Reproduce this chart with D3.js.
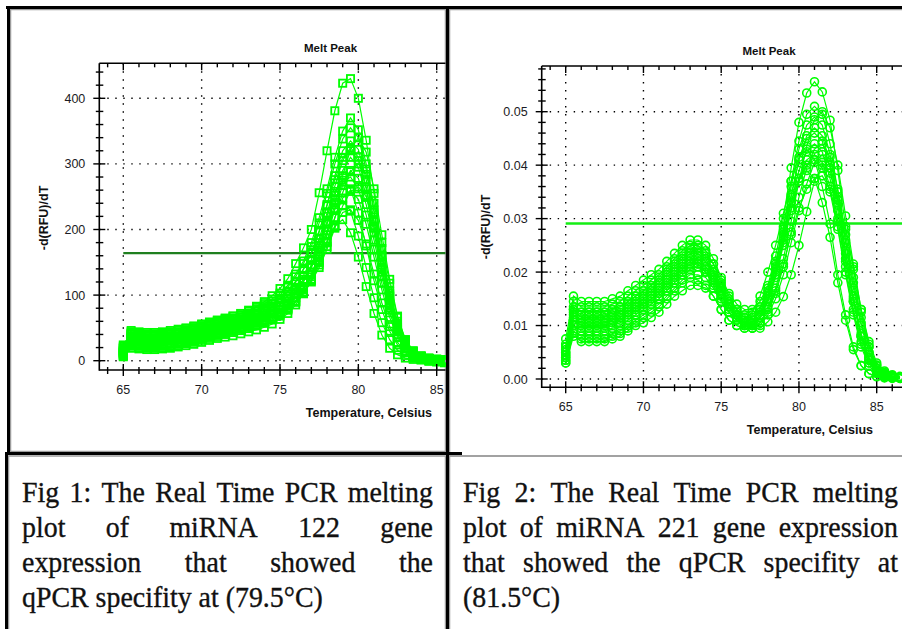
<!DOCTYPE html>
<html>
<head>
<meta charset="utf-8">
<script src="https://cdn.jsdelivr.net/npm/d3@7"></script>
<style>
  body { margin: 0; background: #fff; }
  svg { display: block; }
</style>
</head>
<body>
<svg id="fig" width="902" height="629"></svg>
<script>
// ---- data: Fig 1, miRNA 122 melt curves, -d(RFU)/dT ----
var temps122 = [65, 65.5, 66, 66.5, 67, 67.5, 68, 68.5, 69, 69.5, 70, 70.5, 71, 71.5, 72, 72.5, 73, 73.5, 74, 74.5,
  75, 75.5, 76, 76.5, 77, 77.5, 78, 78.5, 79, 79.5, 80, 80.5, 81, 81.5, 82, 82.5, 83, 83.5, 84, 84.5, 85, 85.5];
var curves122 = [
  [22,44,42,41,41,42,44,46,49,52,55,58,61,64,68,72,77,83,90,99,110,125,148,172,200,256,320,381,423,430,400,336,255,171,103,52,24,12,6,3,2,1],
  [20,46,44,43,43,44,46,48,50,53,56,59,62,65,68,72,76,81,87,94,103,115,132,152,180,218,262,310,350,370,352,300,230,160,100,56,28,14,7,4,2,1],
  [24,42,40,39,39,40,42,44,47,50,53,56,59,62,65,69,73,78,84,91,100,112,128,148,174,210,255,300,338,355,340,292,226,158,98,54,27,13,7,3,2,1],
  [18,38,36,35,35,36,38,40,43,46,49,52,55,58,61,64,68,72,77,83,90,99,110,124,142,166,198,238,282,322,340,318,262,192,124,68,32,15,7,4,2,1],
  [16,36,34,33,33,34,36,38,41,44,47,50,53,56,59,62,66,70,75,81,88,98,112,130,154,186,225,266,305,325,310,265,205,142,88,48,24,12,6,3,2,1],
  [14,34,32,31,31,32,34,36,38,41,44,47,50,53,56,59,63,67,72,78,85,94,107,124,146,176,212,252,290,310,295,252,195,135,84,46,23,11,6,3,2,1],
  [12,32,30,29,29,30,32,34,36,38,41,44,47,50,53,56,59,63,67,72,78,86,96,110,128,152,182,218,256,288,300,284,240,180,118,66,32,15,7,3,2,1],
  [13,30,28,27,27,28,30,32,34,37,40,43,46,49,52,55,58,62,66,71,77,85,96,111,131,158,192,230,268,290,278,238,184,128,80,44,22,11,5,3,1,1],
  [10,28,26,25,25,26,27,29,31,34,37,40,43,46,49,52,56,60,65,71,78,88,102,120,146,180,220,258,275,262,225,175,122,78,45,24,12,6,3,2,1,0],
  [9,26,24,23,23,24,25,27,29,32,35,38,41,44,47,50,53,57,61,66,72,80,91,105,124,150,182,218,248,260,246,208,158,108,66,36,18,9,4,1,-1,-2],
  [8,22,20,19,19,20,21,23,26,28,31,34,37,40,43,46,49,53,57,62,68,77,90,108,132,162,198,232,245,228,190,142,96,58,32,16,8,4,2,1,-1,-3],
  [6,19,18,17,17,18,19,21,23,25,28,31,34,36,38,41,44,47,51,56,63,72,85,102,124,150,180,206,215,195,158,113,72,39,19,9,4,2,1,-1,-2,-3],
  [15,40,38,37,37,38,40,42,45,48,51,54,57,60,63,66,70,75,80,86,94,105,120,139,163,196,238,282,320,335,322,276,214,150,93,51,25,12,6,3,1,0],
  [7,24,22,21,21,22,23,25,27,30,33,36,39,42,45,48,51,55,59,64,70,78,89,103,122,146,174,204,226,230,214,178,132,88,52,28,14,7,3,1,0,-1],
  [19,41,39,38,38,39,41,43,46,49,52,55,58,61,64,67,71,76,81,87,95,106,121,140,165,198,236,276,310,320,305,262,202,140,86,47,23,11,5,2,0,-1],
  [11,27,25,24,24,25,26,28,30,33,36,39,42,45,48,51,54,58,62,67,73,80,90,103,120,142,170,202,236,258,265,250,212,160,106,60,30,14,6,2,0,-2],
  [12,32,29,28,28,29,31,33,35,38,41,44,47,50,53,56,60,64,69,75,82,91,104,121,143,172,208,245,272,280,262,222,170,118,73,40,20,9,4,1,-1,-2]
];
var threshold122 = 164;
var yTicks122 = [0, 100, 200, 300, 400];

// ---- data: Fig 2, miRNA 221 melt curves, -d(RFU)/dT in units of 0.001 ----
var temps221 = [65, 65.5, 66, 66.5, 67, 67.5, 68, 68.5, 69, 69.5, 70, 70.5, 71, 71.5, 72, 72.5, 73, 73.5, 74, 74.5,
  75, 75.5, 76, 76.5, 77, 77.5, 78, 78.5, 79, 79.5, 80, 80.5, 81, 81.5, 82, 82.5, 83, 83.5, 84, 84.5, 85, 85.5, 86, 86.5];
var curves221 = [
  [7.5,15.5,14.5,14.5,14.5,14.5,15,15.5,16.5,17.5,18.5,19.5,20.5,22,23.5,25,26,26,25,22.5,19,16,14,13,13,14.5,17.5,23,30,39.5,48,53.5,55.6,53.7,48.4,39,28.5,20.5,12.5,6,2,1,0.5,0.3],
  [6.5,14.5,13.5,13.5,13.5,13.5,14,14.5,15.5,16.5,17.5,18.5,19.5,21,22.5,24,25,25,24,21.5,18,15,13,12,12,13.5,16.5,21.5,28.5,37,44.5,49.5,51,49.5,44,35,25.5,17,10,5,2,1,0.5,0.3],
  [6,13.5,12.5,12.5,12.5,12.5,13,13.5,14.5,15.5,16.5,17.5,18.5,20,21.5,23,24,24.5,23.5,21.5,18.5,15.5,13,11.5,11,11.5,13.5,17,22.5,29.5,37,43.5,48.5,50,47,40,30.5,21.5,13,7,3,1.5,0.8,0.5],
  [5.5,13,12,12,12,12,12.5,13,14,15,16,17,18,19.5,21,22.5,23.5,23.5,22.5,20,17,14,12,11,11,12.5,15.5,20.5,27,34.5,41,45,46,44.5,39.5,31.5,22.5,14.5,8,4,1.5,0.8,0.4,0.2],
  [5,12,11,11,11,11,11.5,12,13,14,15,16,17,18.5,20,21.5,22.5,22.5,22,20,17,14,12,10.5,10,10.5,12.5,16,21,27.5,34,39.5,43,44,41.5,35.5,27,19,11.5,6,2.5,1.2,0.6,0.3],
  [4.5,11.5,10.5,10.5,10.5,10.5,11,11.5,12.5,13.5,14.5,15.5,16.5,18,19.5,21,22,21.5,20,17.5,14.5,12.5,11,11,12.5,15.5,20,25,31,37,41.5,43,41,36,29,19.5,12,6,2.5,1,0.5,0.3,0.2,0.1],
  [4,11,10,10,10,10,10.5,11,12,13,14,15,16,17.5,19,20.5,21.5,21.5,20.5,18.5,15.5,13,11.5,10.5,10.5,12,15,19.5,25.5,32,37.5,41,42,40.5,36,28.5,20,12.5,6.5,3,1.2,0.6,0.3,0.2],
  [3.5,10,9,9,9,9,9.5,10,11,12,13,14,15,16.5,18,19.5,20.5,21,20.5,19,16.5,14,12,10.5,9.5,9.5,10.7,12.5,15.4,19.5,25,31.3,37,40,38.5,33.5,28,21,13,6.5,2.6,1.2,0.6,0.3],
  [3.5,9,8,8,8,8,8.5,9,10,11,12,13,14,15.5,17,18.5,19.5,19.5,19,17,14.5,12.5,11,10,10,11.5,14.5,19,25,31.5,37,40,41,39.5,35,28,19.5,12,6,2.5,1,0.5,0.3,0.2],
  [3,8.5,7,7,7,7,7.5,8,9,10,10.5,11.5,12.5,14,15.5,16.5,17.5,17.5,17,15.5,13,11,10,9.5,9.5,10.5,13,16.5,21.5,27,32,35.5,37.5,38,35.5,29.5,22,14.5,8,3.5,1.5,0.7,0.3,0.2],
  [6,13,12.5,12.5,12.5,12.5,13,13.5,14.5,15.5,16.5,17.5,19,20.5,22,23.5,24.5,24,23,20.5,17.5,14.5,12.5,11.5,11.5,13,16,21,28,36,43,47.5,49,47.5,42,33.5,24,15.5,8.5,4,1.5,0.8,0.4,0.2],
  [4,10,9.5,9.5,9.5,9.5,10,10.5,11.5,12.5,13.5,14.5,15.5,17,18.5,20,21,21,20,18,15,12.5,11,10,10,11.5,14.5,19.5,26,33,39,42.5,44,42.5,37.5,30,21,13,7,3,1.2,0.6,0.3,0.2],
  [5,12.5,11.5,11.5,11.5,11.5,12,12.5,13.5,14.5,15.5,16.5,17.5,19,20.5,22,23,23,22,19.5,16.5,13.5,11.5,10.5,10.5,12,15,20,26.5,34,41,45.5,47,45.5,40.5,32.5,23.5,15,8,3.5,1.3,0.6,0.3,0.2],
  [4.5,11,10.5,10.5,10.5,10.5,11,11.5,12.5,13.5,14,15,16,17.5,19,20.5,21.5,22,21,19,16,13.5,11.5,10,9.5,10,12,15,19.5,25.5,31.5,36.5,40.5,42,40,34,26,18,10.5,5,2,1,0.5,0.3],
  [3,8,7.5,7.5,7.5,7.5,8,8.5,9.5,10.5,11.5,12.5,13.5,15,16.5,18,19,18.5,17.5,15.5,13,11,10,9.5,10.5,13,17,22,27.5,33,37.5,39,37.5,33,26.5,18,11,5.5,2.5,1,0.4,0.2,0.1,0.1]
];
var threshold221 = 0.0291;
var yTicks221 = [0, 0.01, 0.02, 0.03, 0.04, 0.05];

var xTicks = [65, 70, 75, 80, 85];

var caption122 = ["Fig 1: The Real Time PCR melting", "plot of miRNA 122 gene",
  "expression that showed the", "qPCR specifity at (79.5°C)"];
var caption221 = ["Fig 2: The Real Time PCR melting", "plot of miRNA 221 gene expression",
  "that showed the qPCR specifity at", "(81.5°C)"];

var svg = d3.select("#fig");
var green = "#00ff00";

// table borders
var frame = svg.append("g");
[[10.5, 9.5, 445.5, 451.5], [449.5, 9.5, 912, 456], [8.5, 456, 445.5, 640], [449.5, 456, 912, 640]].forEach(function(r) {
  frame.append("rect").attr("x", r[0]).attr("y", r[1]).attr("width", r[2] - r[0]).attr("height", r[3] - r[1])
    .attr("fill", "none").attr("stroke", "#9c9c9c").attr("stroke-width", 1.5);
});
[[6, 7.5, 902, 7.5], [8.5, 6, 8.5, 455], [6.5, 452, 6.5, 629], [447.5, 6, 447.5, 629], [5, 453.5, 462, 453.5]].forEach(function(l) {
  frame.append("line").attr("x1", l[0]).attr("y1", l[1]).attr("x2", l[2]).attr("y2", l[3])
    .attr("stroke", "#000").attr("stroke-width", 3);
});

function drawChart(o) {
  var x = d3.scaleLinear().domain([65, 85]).range([o.x65, o.x85]);
  var y = d3.scaleLinear().domain([0, o.yRef]).range([o.y0, o.yRefPx]);
  var g = svg.append("g");

  svg.append("clipPath").attr("id", o.id + "-clip").append("rect")
    .attr("x", o.left).attr("y", o.top).attr("width", o.right - o.left).attr("height", o.bottom - o.top);

  // dotted grid
  var grid = g.append("g").attr("stroke", "#000").attr("stroke-width", 1.4).attr("stroke-dasharray", "1.4,6.6");
  grid.selectAll(".gy").data(o.yTicks).join("line").attr("class", "gy")
    .attr("x1", o.left).attr("x2", o.right).attr("y1", y).attr("y2", y);
  grid.selectAll(".gx").data(xTicks).join("line").attr("class", "gx")
    .attr("x1", x).attr("x2", x).attr("y1", o.top).attr("y2", o.bottom);

  var plot = g.append("g").attr("clip-path", "url(#" + o.id + "-clip)");

  // threshold line
  plot.append("line").attr("x1", x(65)).attr("x2", o.right + 20)
    .attr("y1", y(o.threshold)).attr("y2", y(o.threshold))
    .attr("stroke", o.thColor).attr("stroke-width", o.thWidth);

  var line = d3.line().x(function(d) { return x(d.t); }).y(function(d) { return y(d.v); });
  o.curves.forEach(function(c) {
    var pts = o.temps.map(function(t, i) { return { t: t, v: c[i] / o.unit }; });
    var cg = plot.append("g").attr("stroke", green).attr("fill", "none");
    cg.append("path").attr("d", line(pts)).attr("stroke-width", 1.2);
    if (o.marker === "square") {
      cg.selectAll("rect").data(pts).join("rect")
        .attr("x", function(d) { return x(d.t) - 3.6; }).attr("y", function(d) { return y(d.v) - 3.6; })
        .attr("width", 7.2).attr("height", 7.2).attr("stroke-width", 1.8);
    } else {
      cg.selectAll("circle").data(pts).join("circle")
        .attr("cx", function(d) { return x(d.t); }).attr("cy", function(d) { return y(d.v); })
        .attr("r", 4).attr("stroke-width", 1.6);
    }
  });

  // frame lines
  var ax = g.append("g").attr("stroke", "#000").attr("stroke-width", 1.6);
  ax.append("line").attr("x1", o.left).attr("x2", o.left).attr("y1", o.top).attr("y2", o.bottom + 0.8);
  ax.append("line").attr("x1", o.left).attr("x2", o.right).attr("y1", o.bottom).attr("y2", o.bottom);
  ax.append("line").attr("x1", o.left).attr("x2", o.right).attr("y1", o.top).attr("y2", o.top);

  var xMinor = d3.range(64, 88).filter(function(v) { return v % 5 !== 0 && x(v) < o.right; });
  var yMinor = d3.range(0, 40).map(function(i) { return i * o.yMinorStep; })
    .filter(function(v, i) { return i % 5 !== 0 && y(v) > o.top; });

  var tk = g.append("g").attr("stroke", "#000").attr("stroke-width", 1.4);
  tk.selectAll(".ym").data(o.yTicks).join("line").attr("class", "ym")
    .attr("x1", o.left - 6).attr("x2", o.left + 6).attr("y1", y).attr("y2", y);
  tk.selectAll(".yn").data(yMinor).join("line").attr("class", "yn")
    .attr("x1", o.left - 3.5).attr("x2", o.left + 4).attr("y1", y).attr("y2", y);
  tk.selectAll(".xm").data(xTicks).join("line").attr("class", "xm")
    .attr("x1", x).attr("x2", x).attr("y1", o.bottom - 6).attr("y2", o.bottom + 6);
  tk.selectAll(".xn").data(xMinor).join("line").attr("class", "xn")
    .attr("x1", x).attr("x2", x).attr("y1", o.bottom - 3).attr("y2", o.bottom + 4);
  tk.selectAll(".tm").data(xTicks).join("line").attr("class", "tm")
    .attr("x1", x).attr("x2", x).attr("y1", o.top).attr("y2", o.top + 7);
  tk.selectAll(".tn").data(xMinor).join("line").attr("class", "tn")
    .attr("x1", x).attr("x2", x).attr("y1", o.top).attr("y2", o.top + 4);

  // tick labels
  var lab = g.append("g").attr("font-family", "'Liberation Sans', Arial, sans-serif").attr("font-size", 12.5).attr("fill", "#1b1b24");
  lab.selectAll(".yl").data(o.yTicks).join("text").attr("class", "yl")
    .attr("x", o.left - 14).attr("y", y).attr("dy", "0.36em").attr("text-anchor", "end")
    .text(o.fmt);
  lab.selectAll(".xl").data(xTicks).join("text").attr("class", "xl")
    .attr("x", x).attr("y", o.bottom + 24).attr("text-anchor", "middle")
    .text(function(d) { return d; });

  var bold = g.append("g").attr("font-family", "'Liberation Sans', Arial, sans-serif").attr("font-weight", "bold").attr("fill", "#111");
  bold.append("text").attr("x", o.titleX).attr("y", o.top - 11).attr("text-anchor", "middle")
    .attr("font-size", 11.5).text("Melt Peak");
  bold.append("text").attr("x", o.xLabelEnd).attr("y", o.bottom + 46.5).attr("text-anchor", "end")
    .attr("font-size", 12.5).text("Temperature, Celsius");
  bold.append("text").attr("transform", "translate(" + (o.left - 51.5) + "," + o.yLabelMid + ")rotate(-90)")
    .attr("text-anchor", "middle").attr("font-size", 12.5).text("-d(RFU)/dT");
}

drawChart({
  id: "c122", temps: temps122, curves: curves122, unit: 1, marker: "square",
  threshold: threshold122, thColor: "#1f7f1f", thWidth: 2.2,
  yTicks: yTicks122, yMinorStep: 20, fmt: function(d) { return d; },
  x65: 123.3, x85: 436.7, yRef: 400, y0: 360.7, yRefPx: 98.3,
  left: 99.3, right: 445.5, top: 63.3, bottom: 370,
  titleX: 330.5, xLabelEnd: 432, yLabelMid: 218
});

drawChart({
  id: "c221", temps: temps221, curves: curves221, unit: 1000, marker: "circle",
  threshold: threshold221, thColor: "#14ee14", thWidth: 2.6,
  yTicks: yTicks221, yMinorStep: 0.002, fmt: function(d) { return d.toFixed(2); },
  x65: 565.7, x85: 876.7, yRef: 0.05, y0: 379, yRefPx: 111.7,
  left: 541.7, right: 902, top: 66, bottom: 387.3,
  titleX: 769, xLabelEnd: 873, yLabelMid: 227
});

// captions, justified like the source table cells; glyphs slightly condensed
function caption(lines, x0, x1, base) {
  var sx = 0.93;
  var tg = svg.append("g").attr("font-family", "'Liberation Serif', 'Times New Roman', serif")
    .attr("font-size", 30).attr("fill", "#111").attr("stroke", "#111").attr("stroke-width", 0.35);
  function put(txt, xx, yy) {
    return tg.append("text").attr("transform", "translate(" + xx + "," + yy + ")scale(" + sx + ",1)").text(txt);
  }
  lines.forEach(function(txt, i) {
    var yy = base + i * 35;
    if (i === lines.length - 1) { put(txt, x0, yy); return; }
    var words = txt.split(" ");
    var nodes = words.map(function(w) { return put(w, 0, yy); });
    var widths = nodes.map(function(n) { return n.node().getComputedTextLength() * sx; });
    var gap = (x1 - x0 - d3.sum(widths)) / (words.length - 1);
    var cx = x0;
    nodes.forEach(function(n, k) {
      n.attr("transform", "translate(" + cx + "," + yy + ")scale(" + sx + ",1)");
      cx += widths[k] + gap;
    });
  });
}
caption(caption122, 22, 433, 502);
caption(caption221, 463, 898, 502);
</script>
</body>
</html>
